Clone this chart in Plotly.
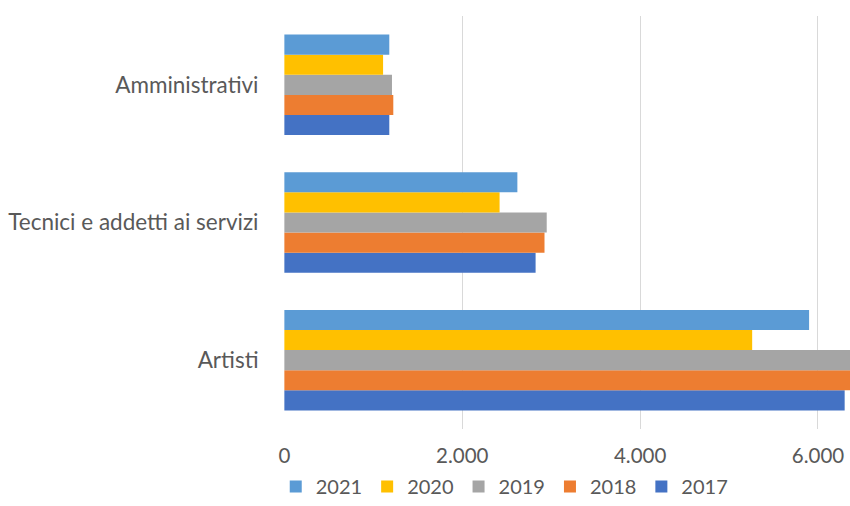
import plotly.graph_objects as go

# Categories, top to bottom
categories = ["Amministrativi", "Tecnici e addetti ai servizi", "Artisti"]

# Values per year, in the same order as categories
years = ["2017", "2018", "2019", "2020", "2021"]
values_2017 = [1180, 2825, 6300]
values_2018 = [1225, 2925, 6420]
values_2019 = [1210, 2950, 6480]
values_2020 = [1110, 2420, 5260]
values_2021 = [1180, 2620, 5900]

series = [values_2017, values_2018, values_2019, values_2020, values_2021]
colors = ["#4472C4", "#ED7D31", "#A5A5A5", "#FFC000", "#5B9BD5"]

x_ticks = [0, 2000, 4000, 6000]
x_tick_labels = ["0", "2.000", "4.000", "6.000"]

FONT = "Lato, 'Open Sans', sans-serif"
TEXT_COLOR = "#595959"
GRID_COLOR = "#D9D9D9"

fig = go.Figure()
for year, vals, col in zip(years, series, colors):
    fig.add_trace(go.Bar(
        y=categories,
        x=vals,
        name=year,
        orientation="h",
        marker=dict(color=col, line=dict(width=0)),
    ))

fig.update_layout(
    width=850,
    height=506,
    barmode="group",
    bargap=0.27,
    bargroupgap=0,
    plot_bgcolor="white",
    paper_bgcolor="white",
    margin=dict(l=284, r=0, t=16, b=74),
    font=dict(family=FONT, size=20, color=TEXT_COLOR),
    legend=dict(
        orientation="h",
        traceorder="reversed",
        x=0.39,
        xanchor="center",
        y=-0.139,
        yanchor="middle",
        font=dict(family=FONT, size=20, color=TEXT_COLOR),
        itemwidth=30,
    ),
    showlegend=True,
)

fig.update_xaxes(
    range=[-4, 6360],
    tickvals=x_ticks,
    ticktext=x_tick_labels,
    showgrid=True,
    gridcolor=GRID_COLOR,
    gridwidth=1,
    zeroline=False,
    showline=False,
    ticks="outside",
    ticklen=8,
    tickcolor="rgba(0,0,0,0)",
    tickfont=dict(family=FONT, size=20.5, color=TEXT_COLOR),
)

fig.update_yaxes(
    categoryorder="array",
    categoryarray=list(reversed(categories)),
    showgrid=False,
    zeroline=False,
    showline=False,
    ticks="outside",
    ticklen=20,
    tickcolor="rgba(0,0,0,0)",
    tickfont=dict(family=FONT, size=22.5, color=TEXT_COLOR),
)

fig.write_html("out.html")
